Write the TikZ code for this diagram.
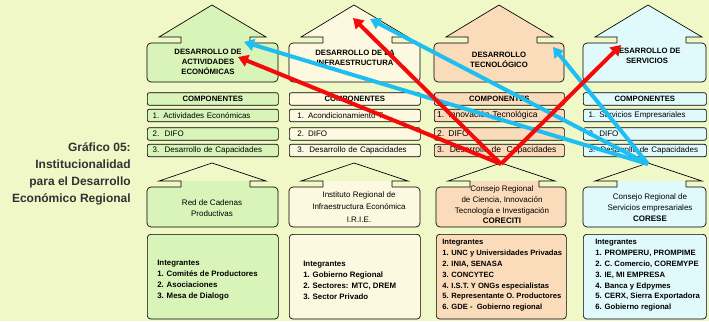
\documentclass[tikz,border=0pt]{standalone}
\usepackage{fontspec}
\setmainfont{Liberation Sans}
\usetikzlibrary{arrows.meta}

\definecolor{bgGreen}{RGB}{240,248,200}
\definecolor{econFill}{RGB}{216,244,184}
\definecolor{infraFill}{RGB}{252,249,224}
\definecolor{tecFill}{RGB}{250,220,186}
\definecolor{servFill}{RGB}{224,250,252}
\definecolor{redLine}{RGB}{245,10,10}
\definecolor{cyanLine}{RGB}{30,190,240}
\definecolor{titleGray}{RGB}{50,50,50}

% house: left, width, apex y, roof base y, body bottom, body colour, roof colour
\newcommand{\drawhouse}[7]{%
  \draw[outline, fill=#6, rounded corners=3] (#1,#4+6) rectangle (#1+#2,#5);
  \fill[#7] (#1+12,#4) -- (#1+65,#3) -- (#1+119,#4) -- cycle;
  \fill[#6] (#1+34,#4) rectangle (#1+103,#4+6.7);
  \draw[outline] (#1+34,#4+6) -- (#1+34,#4) -- (#1+12,#4) -- (#1+65,#3) -- (#1+119,#4) -- (#1+103,#4) -- (#1+103,#4+6);
}

\begin{document}
\begin{tikzpicture}[x=0.75pt, y=-0.75pt,
    outline/.style={draw=black, line width=0.5pt},
    heading/.style={align=center, inner sep=0pt, font=\fontsize{5.8}{7.7}\selectfont\bfseries},
    compRow/.style={draw=black, line width=0.5pt, rounded corners=1.5pt, anchor=west, inner xsep=4pt, inner ysep=0pt, minimum height=9.4pt, text width=90.25pt, align=left, font=\fontsize{6}{7}\selectfont},
    compHead/.style={compRow, align=center, font=\fontsize{5.8}{7}\selectfont\bfseries},
    houseText/.style={align=center, inner sep=0pt, font=\fontsize{6}{8}\selectfont},
    memberBox/.style={draw=black, line width=0.5pt, rounded corners=2.5pt, anchor=north west, minimum width=98.25pt, minimum height=63.5pt, inner sep=0pt},
    memberText/.style={anchor=west, align=left, inner sep=0pt, font=\fontsize{5.9}{8.2}\selectfont\bfseries},
    title/.style={anchor=east, align=right, inner sep=0pt, text=titleGray, font=\fontsize{9}{12.9}\selectfont\bfseries},
    redArrow/.style={draw=redLine, line width=3pt, -{Triangle[length=7.5pt,width=9pt]}},
    cyanArrow/.style={draw=cyanLine, line width=3pt, -{Triangle[length=7.5pt,width=9pt]}}
]
\useasboundingbox[fill=bgGreen] (0,0) rectangle (709,321);

% Title
\node[title] (grafico) at (131,174) {Gráfico 05:\\Institucionalidad\\para el Desarrollo\\Económico Regional};

% Upper houses
\drawhouse{147}{131}{5}{37}{82}{econFill}{econFill}
\drawhouse{289}{131}{5}{37}{82}{infraFill}{infraFill}
\drawhouse{434}{130}{5}{37}{82}{tecFill}{tecFill}
\drawhouse{583}{123}{5}{37}{82}{servFill}{servFill}

\node[heading] (headEcon) at (208,62) {DESARROLLO DE\\ACTIVIDADES\\ECONÓMICAS};
\node[heading] (headInfra) at (355,58) {DESARROLLO DE LA\\INFRAESTRUCTURA};
\node[heading] (headTec) at (499,60) {DESARROLLO\\TECNOLÓGICO};
\node[heading] (headServ) at (647,56) {DESARROLLO DE\\SERVICIOS};

% Components
\node[compHead, fill=econFill] (compEcon) at (147,99) {COMPONENTES};
\node[compRow, fill=econFill] (econA) at (147,115.5) {1. Actividades Económicas};
\node[compRow, fill=econFill] (econB) at (147,134) {2.\ \ DIFO};
\node[compRow, fill=econFill] (econC) at (147,150.5) {3.\ \ Desarrollo de Capacidades};

\node[compHead, fill=infraFill] (compInfra) at (289,99) {COMPONENTES};
\node[compRow, fill=infraFill, inner xsep=6pt, text width=86.25pt] (infraA) at (289,115.5) {1. Acondicionamiento T.};
\node[compRow, fill=infraFill, inner xsep=6pt, text width=86.25pt] (infraB) at (289,134) {2. DIFO};
\node[compRow, fill=infraFill, inner xsep=6pt, text width=86.25pt] (infraC) at (289,150.5) {3.\ \ Desarrollo de Capacidades};

\node[compHead, fill=tecFill, text width=89.5pt] (compTec) at (434,99) {COMPONENTES};
\node[compRow, fill=tecFill, inner xsep=2pt, text width=93.5pt, font=\fontsize{6.4}{7}\selectfont] (tecA) at (434,115.5) {1. Innovación Tecnológica};
\node[compRow, fill=tecFill, inner xsep=2pt, text width=93.5pt, font=\fontsize{6.4}{7}\selectfont] (tecB) at (434,134) {2. DIFO};
\node[compRow, fill=tecFill, inner xsep=2pt, text width=93.5pt, font=\fontsize{6.4}{7}\selectfont] (tecC) at (434,150.5) {3.\ \ Desarrollo de\ \ Capacidades};

\node[compHead, fill=servFill, text width=84.25pt] (compServ) at (583,99) {COMPONENTES};
\node[compRow, fill=servFill, text width=84.25pt] (servA) at (583,115.5) {1. Servicios Empresariales};
\node[compRow, fill=servFill, text width=84.25pt] (servB) at (583,134) {2. DIFO};
\node[compRow, fill=servFill, text width=84.25pt] (servC) at (583,150.5) {3.\ \ Desarrollo de Capacidades};

% Lower houses
\drawhouse{147}{131}{163}{181}{227}{econFill}{bgGreen}
\drawhouse{289}{131}{163}{181}{227}{infraFill}{bgGreen}
\drawhouse{436}{130}{163}{181}{227}{tecFill}{bgGreen}
\drawhouse{583}{123}{163}{181}{227}{servFill}{bgGreen}

\node[houseText] (redCadenas) at (212,208) {Red de Cadenas\\Productivas};
\node[houseText, font=\fontsize{6}{9.2}\selectfont] (irie) at (359,207) {Instituto Regional de\\Infraestructura Económica\\I.R.I.E.};
\node[houseText] (coreciti) at (502,205) {Consejo Regional\\de Ciencia, Innovación\\Tecnología e Investigación\\\textbf{CORECITI}};
\node[houseText] (corese) at (650,207.5) {Consejo Regional de\\Servicios empresariales\\\textbf{CORESE}};

% Members
\node[memberBox, fill=econFill] (membEcon) at (147,234) {};
\node[memberBox, fill=infraFill] (membInfra) at (289,234) {};
\node[memberBox, fill=tecFill, minimum width=97.5pt] (membTec) at (436,234) {};
\node[memberBox, fill=servFill, minimum width=92.25pt] (membServ) at (583,234) {};

\node[memberText] (listEcon) at (157,280.5) {Integrantes\\1. Comités de Productores\\2. Asociaciones\\3. Mesa de Dialogo};
\node[memberText] (listInfra) at (303,280.5) {Integrantes\\1. Gobierno Regional\\2. Sectores: MTC, DREM\\3. Sector Privado};
\node[memberText, font=\fontsize{5.7}{8.1}\selectfont\bfseries] (listTec) at (442,275.5) {Integrantes\\1. UNC y Universidades Privadas\\2. INIA, SENASA\\3. CONCYTEC\\4. I.S.T. Y ONGs especialistas\\5. Representante O. Productores\\6. GDE -\ \ Gobierno regional};
\node[memberText, font=\fontsize{5.8}{8.1}\selectfont\bfseries] (listServ) at (595,275.5) {Integrantes\\1. PROMPERU, PROMPIME\\2. C. Comercio, COREMYPE\\3. IE, MI EMPRESA\\4. Banca y Edpymes\\5. CERX, Sierra Exportadora\\6. Gobierno regional};

% Arrow ends
\coordinate (tecApex) at (501,164);
\coordinate (servApex) at (648,164);
\coordinate (econRed) at (238,57);
\coordinate (infraRed) at (353,18);
\coordinate (servRed) at (621,45);
\coordinate (econCyan) at (244,42);
\coordinate (infraCyan) at (370,19);
\coordinate (tecCyan) at (553,47);

% Arrows
\draw[cyanArrow] (servApex) -- (econCyan);
\draw[cyanArrow] (servApex) -- (infraCyan);
\draw[cyanArrow] (servApex) -- (tecCyan);
\draw[redArrow] (tecApex) -- (econRed);
\draw[redArrow] (tecApex) -- (infraRed);
\draw[redArrow] (tecApex) -- (servRed);

\end{tikzpicture}
\end{document}
